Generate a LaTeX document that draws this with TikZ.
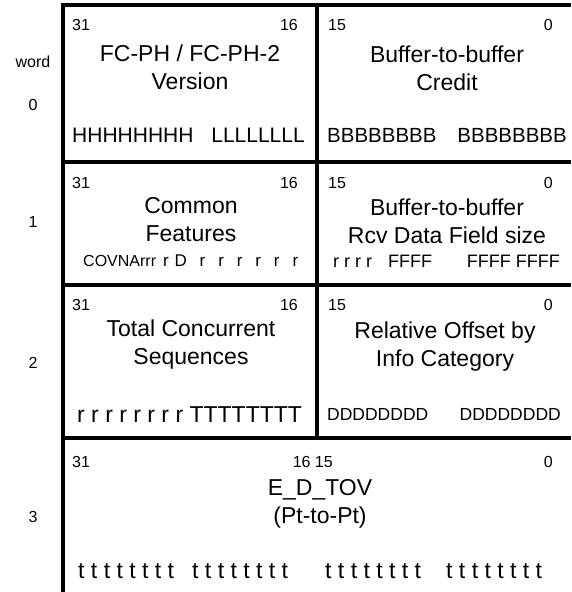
\documentclass[tikz,border=0pt]{standalone}
\usepackage{fontspec}
\setmainfont{Liberation Sans}
\usetikzlibrary{positioning}

\begin{document}
\begin{tikzpicture}[
  x=1pt,y=-1pt,
  frame/.style={line width=3.5pt},
  field/.style={align=center,inner sep=0pt,font=\fontsize{23}{28}\selectfont},
  bitno/.style={inner sep=0pt,font=\fontsize{16}{18}\selectfont},
  wordno/.style={inner sep=0pt,font=\fontsize{16}{18}\selectfont},
  bits/.style={inner sep=0pt,font=\fontsize{#1}{#1}\selectfont},
  bits/.default=21,
]
\useasboundingbox (0,0) rectangle (571,592);
\draw[frame] (63,592) -- (63,5) -- (571,5);
\draw[frame] (317,5) -- (317,438);
\draw[frame] (63,162) -- (571,162);
\draw[frame] (63,285) -- (571,285);
\draw[frame] (63,438) -- (571,438);

\node[wordno] (word) at (33,62) {word};
\node[wordno] (w0) at (33,105) {0};
\node[wordno] (w1) at (33,222) {1};
\node[wordno] (w2) at (33,363) {2};
\node[wordno] (w3) at (33,517) {3};

\node[bitno,anchor=base west] (a31) at (72,30) {31};
\node[bitno,anchor=base east] (a16) at (298,30) {16};
\node[bitno,anchor=base west] (a15) at (328,30) {15};
\node[bitno,anchor=base east] (a0) at (553,30) {0};
\node[field] (version) at (190,67) {FC-PH / FC-PH-2\\Version};
\node[field] (credit) at (447,68) {Buffer-to-buffer\\Credit};
\node[bits,anchor=base west] (hhh) at (72,142) {HHHHHHHH};
\node[bits,anchor=base east] (lll) at (305,142) {LLLLLLLL};
\node[bits=20.5,anchor=base west] (bbb1) at (327,142) {BBBBBBBB};
\node[bits=20.5,anchor=base east] (bbb2) at (567,142) {BBBBBBBB};

\node[bitno,anchor=base west] (b31) at (72,188) {31};
\node[bitno,anchor=base east] (b16) at (298,188) {16};
\node[bitno,anchor=base west] (b15) at (328,188) {15};
\node[bitno,anchor=base east] (b0) at (553,188) {0};
\node[field] (common) at (191,220) {Common\\Features};
\node[field] (rcvsize) at (447,221) {Buffer-to-buffer\\Rcv Data Field size};
\node[bits=16,anchor=base west] (covna) at (83,266) {COVNArrr};
\node[bits=17,anchor=base west,text width=135pt] (rdr) at (163,266)
  {r D\hfill r\hfill r\hfill r\hfill r\hfill r\hfill r};
\node[bits=18,anchor=base west] (rrrr) at (333,267) {r r r r};
\node[bits=18,anchor=base west] (fff1) at (388,267) {FFFF};
\node[bits=18,anchor=base east] (fff2) at (560,267) {FFFF FFFF};

\node[bitno,anchor=base west] (c31) at (72,310) {31};
\node[bitno,anchor=base east] (c16) at (298,310) {16};
\node[bitno,anchor=base west] (c15) at (328,310) {15};
\node[bitno,anchor=base east] (c0) at (553,310) {0};
\node[field] (totseq) at (191,345) {Total Concurrent\\Sequences};
\node[field] (reloff) at (445,347) {Relative Offset by\\Info Category};
\node[bits=23,anchor=base west] (rtt) at (77,422) {r r r r r r r r TTTTTTTT};
\node[bits=17.5,anchor=base west] (ddd1) at (327,420) {DDDDDDDD};
\node[bits=17.5,anchor=base east] (ddd2) at (561,420) {DDDDDDDD};

\node[bitno,anchor=base west] (d31) at (72,467) {31};
\node[bitno,anchor=base east] (d1615) at (333,467) {16 15};
\node[bitno,anchor=base east] (d0) at (553,467) {0};
\node[field] (edtov) at (320,504) {E\_D\_TOV\\(Pt-to-Pt)};
\node[bits=23,anchor=base west] (ttt1) at (78,578) {t t t t t t t t};
\node[bits=23,anchor=base west] (ttt2) at (192,578) {t t t t t t t t};
\node[bits=23,anchor=base west] (ttt3) at (325,578) {t t t t t t t t};
\node[bits=23,anchor=base west] (ttt4) at (446,578) {t t t t t t t t};
\end{tikzpicture}
\end{document}
